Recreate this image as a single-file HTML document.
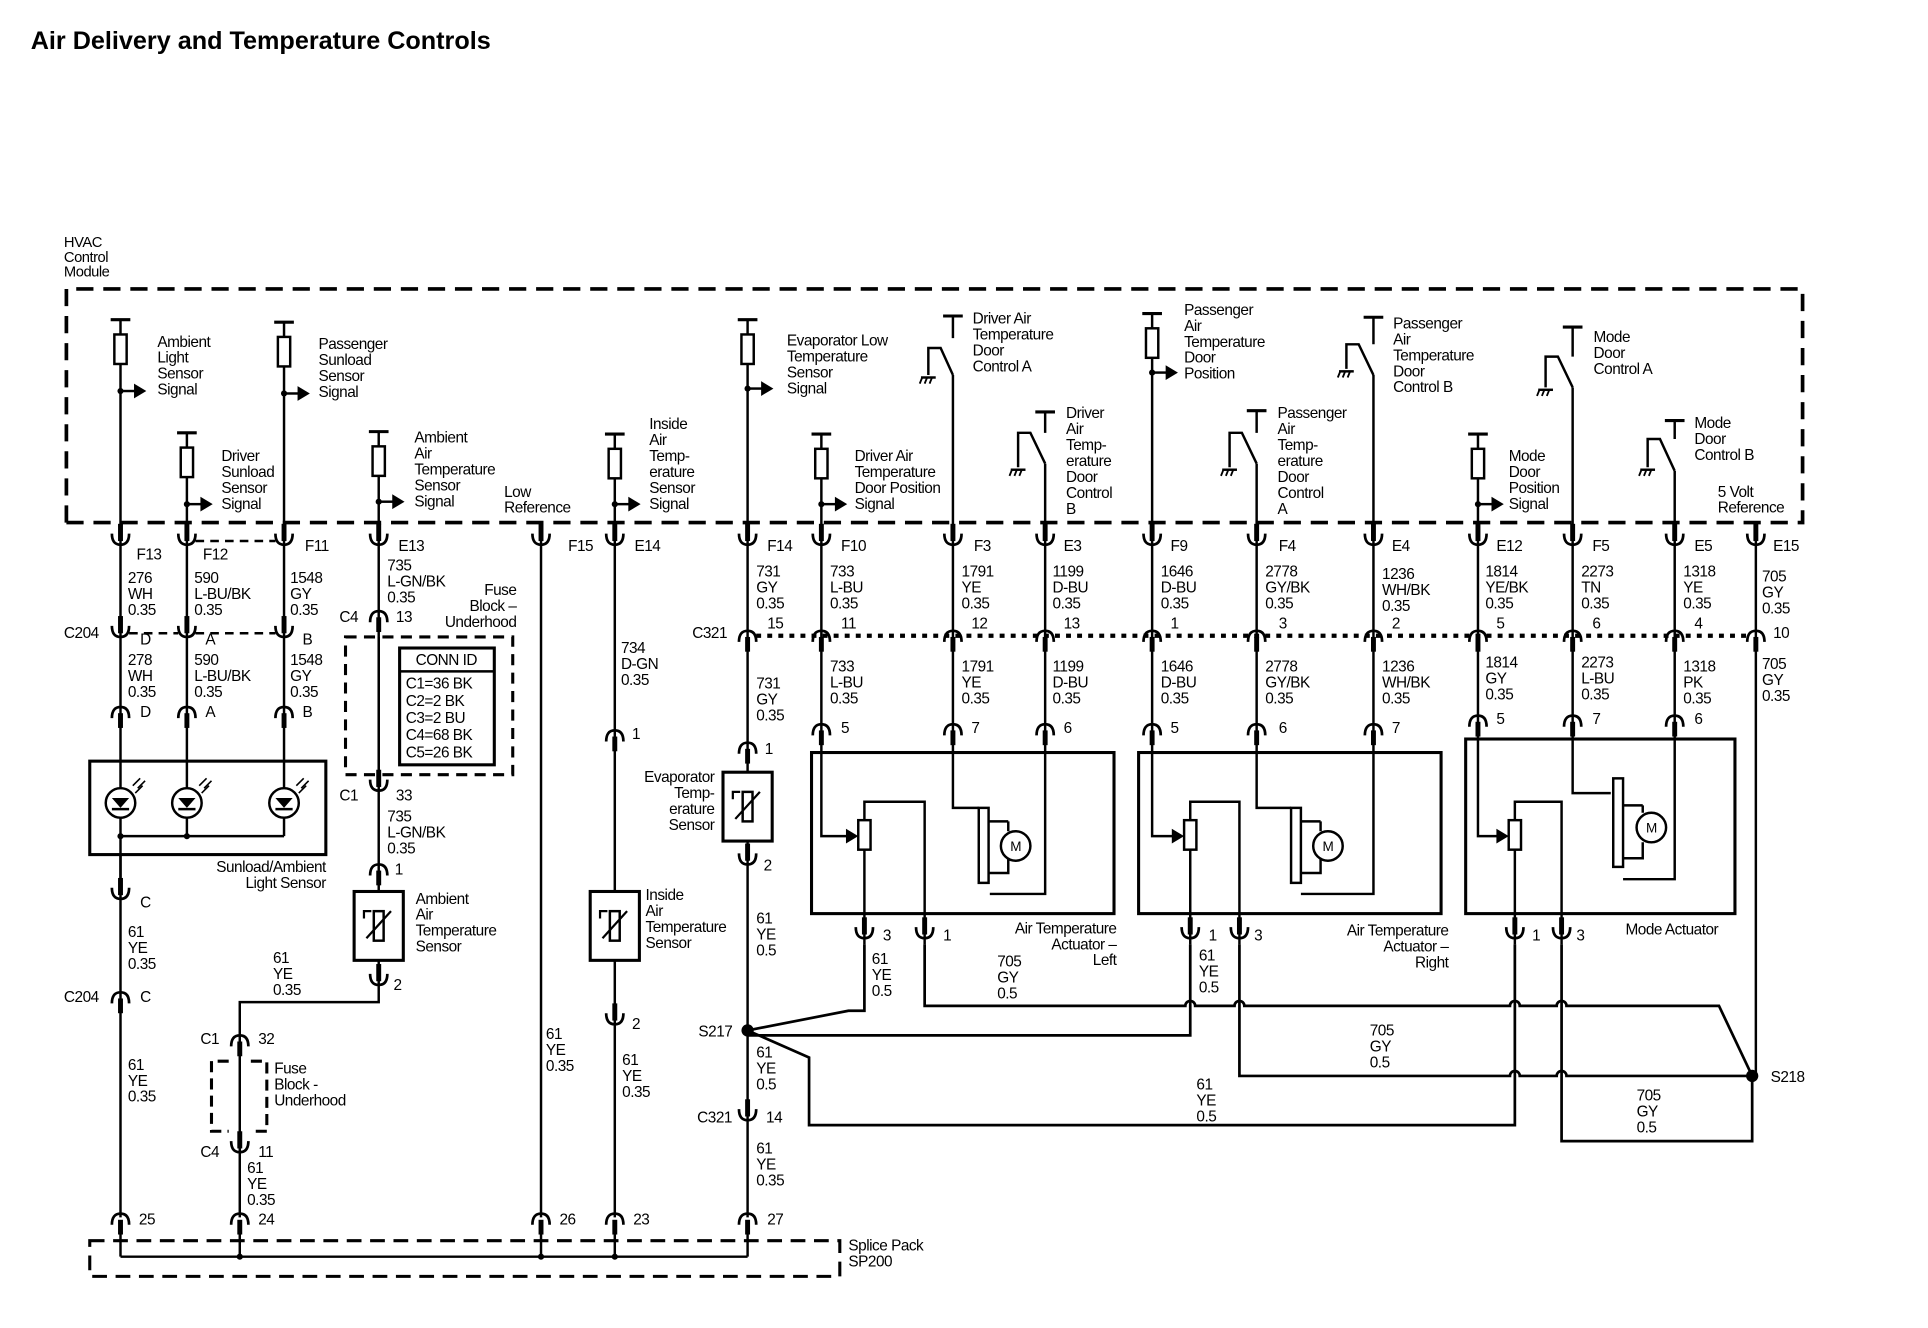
<!DOCTYPE html>
<html><head><meta charset="utf-8"><style>
html,body{margin:0;padding:0;background:#fff}
svg{display:block}
text{font-family:"Liberation Sans",sans-serif;font-size:12.5px;fill:#000;letter-spacing:-0.4px}
</style></head><body>
<svg width="1928" height="1328" viewBox="0 0 1568 1080" preserveAspectRatio="none" xmlns="http://www.w3.org/2000/svg">
<defs>
<g id="u"><line x1="0" y1="-14" x2="0" y2="0" stroke="#000" stroke-width="4"/><path d="M-7,-6 Q-7,3 0,3 Q7,3 7,-6" fill="none" stroke="#000" stroke-width="2.2"/></g>
<g id="n"><line x1="0" y1="2" x2="0" y2="14" stroke="#000" stroke-width="4"/><path d="M-7,6 Q-7,-3 0,-3 Q7,-3 7,6" fill="none" stroke="#000" stroke-width="2.2"/></g>
<g id="res"><line x1="-8" y1="0" x2="8" y2="0" stroke="#000" stroke-width="2.5"/><rect x="-5" y="12" width="10" height="24" fill="#fff" stroke="#000" stroke-width="2"/></g>
<g id="arr"><circle cx="0" cy="0" r="2.5"/><line x1="0" y1="0" x2="12" y2="0" stroke="#000" stroke-width="2"/><path d="M11,-6 L21,0 L11,6 Z"/></g>
<g id="gnd"><line x1="-6" y1="0" x2="6" y2="0" stroke="#000" stroke-width="2"/><path d="M-5,0 l-2,5 M-1,0 l-2,5 M3,0 l-2,5" stroke="#000" stroke-width="1.5"/></g>
<g id="tee"><line x1="-8" y1="0" x2="8" y2="0" stroke="#000" stroke-width="2.5"/></g>
<g id="diode"><circle cx="0" cy="0" r="12" fill="#fff" stroke="#000" stroke-width="2"/><path d="M-7,-4 L7,-4 L0,4 Z"/><line x1="-7" y1="5" x2="7" y2="5" stroke="#000" stroke-width="2"/><path d="M10,-14 l6,-6 M14,-12 l6,-6 M12,-8 l6,-6" stroke="#000" stroke-width="1.3"/></g>
<g id="therm"><rect x="-20" y="0" width="40" height="56" fill="#fff" stroke="#000" stroke-width="2.5"/><rect x="-4" y="16" width="8" height="24" fill="#fff" stroke="#000" stroke-width="2"/><line x1="-10" y1="38" x2="10" y2="16" stroke="#000" stroke-width="1.8"/><path d="M-12,22 l0,-6 l6,0" fill="none" stroke="#000" stroke-width="1.8"/></g>
</defs>

<text x="25" y="40" style="font-size:20.5px;font-weight:bold;letter-spacing:0">Air Delivery and Temperature Controls</text>
<text x="52" y="201" style="font-size:12px"><tspan x="52">HVAC</tspan><tspan x="52" dy="12">Control</tspan><tspan x="52" dy="12">Module</tspan></text>

<g fill="none" stroke="#000" stroke-width="3" stroke-dasharray="14,8">
<path d="M54,425 V235 H1466 V425 H54"/>
</g>

<g stroke="#000" stroke-width="2" fill="none">
<path d="M98,260 V990 M152,352 V618 M231,262 V618 M308,351 V815 H195 V990 M440,425 V990 M500,353 V990 M608,260 V990"/>
<path d="M668,353 V680 H690 M775,275 V257 M775,305 V657 H796 M850,352 V335 M850,377 V727 H805"/>
<path d="M937,255 V680 H955 M1022,352 V334 M1022,377 V657 H1050 M1117,280 V258 M1117,305 V727 H1058"/>
<path d="M1202,353 V680 H1220 M1279,290 V266 M1279,315 V645 H1310 M1362,357 V342 M1362,383 V715 H1320 M1428,425 V875"/>
<path d="M755,305 V283 H765 L775,305"/>
<path d="M828,380 V352 H838 L850,377"/>
<path d="M1000,380 V352 H1010 L1022,377"/>
<path d="M1095,300 V280 H1105 L1117,305"/>
<path d="M1257,315 V290 H1267 L1279,315"/>
<path d="M1340,380 V357 H1350 L1362,383"/>
</g>
<use href="#gnd" x="755" y="307"/><use href="#gnd" x="828" y="382"/><use href="#gnd" x="1000" y="382"/><use href="#gnd" x="1095" y="302"/><use href="#gnd" x="1257" y="317"/><use href="#gnd" x="1340" y="382"/>
<use href="#tee" x="775" y="257"/><use href="#tee" x="850" y="335"/><use href="#tee" x="1022" y="334"/><use href="#tee" x="1117" y="258"/><use href="#tee" x="1279" y="266"/><use href="#tee" x="1362" y="342"/>

<use href="#res" x="98" y="260"/><use href="#arr" x="98" y="318"/>
<use href="#res" x="152" y="352"/><use href="#arr" x="152" y="410"/>
<use href="#res" x="231" y="262"/><use href="#arr" x="231" y="320"/>
<use href="#res" x="308" y="351"/><use href="#arr" x="308" y="408"/>
<use href="#res" x="500" y="353"/><use href="#arr" x="500" y="410"/>
<use href="#res" x="608" y="260"/><use href="#arr" x="608" y="316"/>
<use href="#res" x="668" y="353"/><use href="#arr" x="668" y="410"/>
<use href="#res" x="937" y="255"/><use href="#arr" x="937" y="303"/>
<use href="#res" x="1202" y="353"/><use href="#arr" x="1202" y="410"/>

<text><tspan x="128" y="282">Ambient</tspan><tspan x="128" dy="13">Light</tspan><tspan x="128" dy="13">Sensor</tspan><tspan x="128" dy="13">Signal</tspan></text>
<text><tspan x="180" y="375">Driver</tspan><tspan x="180" dy="13">Sunload</tspan><tspan x="180" dy="13">Sensor</tspan><tspan x="180" dy="13">Signal</tspan></text>
<text><tspan x="259" y="284">Passenger</tspan><tspan x="259" dy="13">Sunload</tspan><tspan x="259" dy="13">Sensor</tspan><tspan x="259" dy="13">Signal</tspan></text>
<text><tspan x="337" y="360">Ambient</tspan><tspan x="337" dy="13">Air</tspan><tspan x="337" dy="13">Temperature</tspan><tspan x="337" dy="13">Sensor</tspan><tspan x="337" dy="13">Signal</tspan></text>
<text><tspan x="410" y="404">Low</tspan><tspan x="410" dy="13">Reference</tspan></text>
<text><tspan x="528" y="349">Inside</tspan><tspan x="528" dy="13">Air</tspan><tspan x="528" dy="13">Temp-</tspan><tspan x="528" dy="13">erature</tspan><tspan x="528" dy="13">Sensor</tspan><tspan x="528" dy="13">Signal</tspan></text>
<text><tspan x="640" y="281">Evaporator Low</tspan><tspan x="640" dy="13">Temperature</tspan><tspan x="640" dy="13">Sensor</tspan><tspan x="640" dy="13">Signal</tspan></text>
<text><tspan x="695" y="375">Driver Air</tspan><tspan x="695" dy="13">Temperature</tspan><tspan x="695" dy="13">Door Position</tspan><tspan x="695" dy="13">Signal</tspan></text>
<text><tspan x="791" y="263">Driver Air</tspan><tspan x="791" dy="13">Temperature</tspan><tspan x="791" dy="13">Door</tspan><tspan x="791" dy="13">Control A</tspan></text>
<text><tspan x="867" y="340">Driver</tspan><tspan x="867" dy="13">Air</tspan><tspan x="867" dy="13">Temp-</tspan><tspan x="867" dy="13">erature</tspan><tspan x="867" dy="13">Door</tspan><tspan x="867" dy="13">Control</tspan><tspan x="867" dy="13">B</tspan></text>
<text><tspan x="963" y="256">Passenger</tspan><tspan x="963" dy="13">Air</tspan><tspan x="963" dy="13">Temperature</tspan><tspan x="963" dy="13">Door</tspan><tspan x="963" dy="13">Position</tspan></text>
<text><tspan x="1039" y="340">Passenger</tspan><tspan x="1039" dy="13">Air</tspan><tspan x="1039" dy="13">Temp-</tspan><tspan x="1039" dy="13">erature</tspan><tspan x="1039" dy="13">Door</tspan><tspan x="1039" dy="13">Control</tspan><tspan x="1039" dy="13">A</tspan></text>
<text><tspan x="1133" y="267">Passenger</tspan><tspan x="1133" dy="13">Air</tspan><tspan x="1133" dy="13">Temperature</tspan><tspan x="1133" dy="13">Door</tspan><tspan x="1133" dy="13">Control B</tspan></text>
<text><tspan x="1227" y="375">Mode</tspan><tspan x="1227" dy="13">Door</tspan><tspan x="1227" dy="13">Position</tspan><tspan x="1227" dy="13">Signal</tspan></text>
<text><tspan x="1296" y="278">Mode</tspan><tspan x="1296" dy="13">Door</tspan><tspan x="1296" dy="13">Control A</tspan></text>
<text><tspan x="1378" y="348">Mode</tspan><tspan x="1378" dy="13">Door</tspan><tspan x="1378" dy="13">Control B</tspan></text>
<text><tspan x="1397" y="404">5 Volt</tspan><tspan x="1397" dy="13">Reference</tspan></text>

<g>
<use href="#u" x="98" y="440"/><use href="#u" x="152" y="440"/><use href="#u" x="231" y="440"/><use href="#u" x="308" y="440"/><use href="#u" x="440" y="440"/><use href="#u" x="500" y="440"/><use href="#u" x="608" y="440"/><use href="#u" x="668" y="440"/><use href="#u" x="775" y="440"/><use href="#u" x="850" y="440"/><use href="#u" x="937" y="440"/><use href="#u" x="1022" y="440"/><use href="#u" x="1117" y="440"/><use href="#u" x="1202" y="440"/><use href="#u" x="1279" y="440"/><use href="#u" x="1362" y="440"/><use href="#u" x="1428" y="440"/>
</g>
<path d="M159,440 H224" stroke="#000" stroke-width="2" stroke-dasharray="7,5"/>
<path d="M105,515 H145 M159,515 H224" stroke="#000" stroke-width="2" stroke-dasharray="7,5"/>
<path d="M615,517 H1421" stroke="#000" stroke-width="3.5" stroke-dasharray="4,5"/>
<text><tspan x="111" y="455">F13</tspan><tspan x="165" y="455">F12</tspan><tspan x="248" y="448">F11</tspan><tspan x="324" y="448">E13</tspan><tspan x="462" y="448">F15</tspan><tspan x="516" y="448">E14</tspan><tspan x="624" y="448">F14</tspan><tspan x="684" y="448">F10</tspan><tspan x="792" y="448">F3</tspan><tspan x="865" y="448">E3</tspan><tspan x="952" y="448">F9</tspan><tspan x="1040" y="448">F4</tspan><tspan x="1132" y="448">E4</tspan><tspan x="1217" y="448">E12</tspan><tspan x="1295" y="448">F5</tspan><tspan x="1378" y="448">E5</tspan><tspan x="1442" y="448">E15</tspan></text>

<text><tspan x="104" y="474">276</tspan><tspan x="104" dy="13">WH</tspan><tspan x="104" dy="13">0.35</tspan></text>
<text><tspan x="158" y="474">590</tspan><tspan x="158" dy="13">L-BU/BK</tspan><tspan x="158" dy="13">0.35</tspan></text>
<text><tspan x="236" y="474">1548</tspan><tspan x="236" dy="13">GY</tspan><tspan x="236" dy="13">0.35</tspan></text>
<text><tspan x="315" y="464">735</tspan><tspan x="315" dy="13">L-GN/BK</tspan><tspan x="315" dy="13">0.35</tspan></text>
<text><tspan x="615" y="469">731</tspan><tspan x="615" dy="13">GY</tspan><tspan x="615" dy="13">0.35</tspan></text>
<text><tspan x="675" y="469">733</tspan><tspan x="675" dy="13">L-BU</tspan><tspan x="675" dy="13">0.35</tspan></text>
<text><tspan x="782" y="469">1791</tspan><tspan x="782" dy="13">YE</tspan><tspan x="782" dy="13">0.35</tspan></text>
<text><tspan x="856" y="469">1199</tspan><tspan x="856" dy="13">D-BU</tspan><tspan x="856" dy="13">0.35</tspan></text>
<text><tspan x="944" y="469">1646</tspan><tspan x="944" dy="13">D-BU</tspan><tspan x="944" dy="13">0.35</tspan></text>
<text><tspan x="1029" y="469">2778</tspan><tspan x="1029" dy="13">GY/BK</tspan><tspan x="1029" dy="13">0.35</tspan></text>
<text><tspan x="1124" y="471">1236</tspan><tspan x="1124" dy="13">WH/BK</tspan><tspan x="1124" dy="13">0.35</tspan></text>
<text><tspan x="1208" y="469">1814</tspan><tspan x="1208" dy="13">YE/BK</tspan><tspan x="1208" dy="13">0.35</tspan></text>
<text><tspan x="1286" y="469">2273</tspan><tspan x="1286" dy="13">TN</tspan><tspan x="1286" dy="13">0.35</tspan></text>
<text><tspan x="1369" y="469">1318</tspan><tspan x="1369" dy="13">YE</tspan><tspan x="1369" dy="13">0.35</tspan></text>
<text><tspan x="1433" y="473">705</tspan><tspan x="1433" dy="13">GY</tspan><tspan x="1433" dy="13">0.35</tspan></text>

<use href="#u" x="98" y="515"/><use href="#u" x="152" y="515"/><use href="#u" x="231" y="515"/>
<text x="52" y="519">C204</text>
<text><tspan x="114" y="524">D</tspan><tspan x="167" y="524">A</tspan><tspan x="246" y="524">B</tspan></text>
<g><use href="#n" x="608" y="516"/><use href="#n" x="668" y="516"/><use href="#n" x="775" y="516"/><use href="#n" x="850" y="516"/><use href="#n" x="937" y="516"/><use href="#n" x="1022" y="516"/><use href="#n" x="1117" y="516"/><use href="#n" x="1202" y="516"/><use href="#n" x="1279" y="516"/><use href="#n" x="1362" y="516"/><use href="#n" x="1428" y="516"/></g>
<text x="563" y="519">C321</text>
<text><tspan x="624" y="511">15</tspan><tspan x="684" y="511">11</tspan><tspan x="790" y="511">12</tspan><tspan x="865" y="511">13</tspan><tspan x="952" y="511">1</tspan><tspan x="1040" y="511">3</tspan><tspan x="1132" y="511">2</tspan><tspan x="1217" y="511">5</tspan><tspan x="1295" y="511">6</tspan><tspan x="1378" y="511">4</tspan><tspan x="1442" y="519">10</tspan></text>

<text><tspan x="104" y="541">278</tspan><tspan x="104" dy="13">WH</tspan><tspan x="104" dy="13">0.35</tspan></text>
<text><tspan x="158" y="541">590</tspan><tspan x="158" dy="13">L-BU/BK</tspan><tspan x="158" dy="13">0.35</tspan></text>
<text><tspan x="236" y="541">1548</tspan><tspan x="236" dy="13">GY</tspan><tspan x="236" dy="13">0.35</tspan></text>
<text><tspan x="615" y="560">731</tspan><tspan x="615" dy="13">GY</tspan><tspan x="615" dy="13">0.35</tspan></text>
<text><tspan x="675" y="546">733</tspan><tspan x="675" dy="13">L-BU</tspan><tspan x="675" dy="13">0.35</tspan></text>
<text><tspan x="782" y="546">1791</tspan><tspan x="782" dy="13">YE</tspan><tspan x="782" dy="13">0.35</tspan></text>
<text><tspan x="856" y="546">1199</tspan><tspan x="856" dy="13">D-BU</tspan><tspan x="856" dy="13">0.35</tspan></text>
<text><tspan x="944" y="546">1646</tspan><tspan x="944" dy="13">D-BU</tspan><tspan x="944" dy="13">0.35</tspan></text>
<text><tspan x="1029" y="546">2778</tspan><tspan x="1029" dy="13">GY/BK</tspan><tspan x="1029" dy="13">0.35</tspan></text>
<text><tspan x="1124" y="546">1236</tspan><tspan x="1124" dy="13">WH/BK</tspan><tspan x="1124" dy="13">0.35</tspan></text>
<text><tspan x="1208" y="543">1814</tspan><tspan x="1208" dy="13">GY</tspan><tspan x="1208" dy="13">0.35</tspan></text>
<text><tspan x="1286" y="543">2273</tspan><tspan x="1286" dy="13">L-BU</tspan><tspan x="1286" dy="13">0.35</tspan></text>
<text><tspan x="1369" y="546">1318</tspan><tspan x="1369" dy="13">PK</tspan><tspan x="1369" dy="13">0.35</tspan></text>
<text><tspan x="1433" y="544">705</tspan><tspan x="1433" dy="13">GY</tspan><tspan x="1433" dy="13">0.35</tspan></text>

<use href="#n" x="98" y="578"/><use href="#n" x="152" y="578"/><use href="#n" x="231" y="578"/>
<text><tspan x="114" y="583">D</tspan><tspan x="167" y="583">A</tspan><tspan x="246" y="583">B</tspan></text>
<rect x="73" y="619" width="192" height="76" fill="#fff" stroke="#000" stroke-width="2.5"/>
<path d="M98,619 V725 M152,619 V680 M231,619 V680 M98,680 H231" stroke="#000" stroke-width="2" fill="none"/>
<circle cx="98" cy="680" r="2.5"/><circle cx="152" cy="680" r="2.5"/>
<use href="#diode" x="98" y="653"/><use href="#diode" x="152" y="653"/><use href="#diode" x="231" y="653"/>
<text text-anchor="end"><tspan x="265" y="709">Sunload/Ambient</tspan><tspan x="265" dy="13">Light Sensor</tspan></text>
<use href="#u" x="98" y="728"/><text x="114" y="738">C</text>
<text><tspan x="104" y="762">61</tspan><tspan x="104" dy="13">YE</tspan><tspan x="104" dy="13">0.35</tspan></text>
<use href="#n" x="98" y="810"/><text x="114" y="815">C</text><text x="52" y="815">C204</text>
<text><tspan x="104" y="870">61</tspan><tspan x="104" dy="13">YE</tspan><tspan x="104" dy="13">0.35</tspan></text>

<use href="#n" x="308" y="500"/><text x="276" y="506">C4</text><text x="322" y="506">13</text>
<text text-anchor="end"><tspan x="420" y="484">Fuse</tspan><tspan x="420" dy="13">Block –</tspan><tspan x="420" dy="13">Underhood</tspan></text>
<rect x="281" y="518" width="136" height="112" fill="none" stroke="#000" stroke-width="2.5" stroke-dasharray="9,6"/>
<line x1="308" y1="518" x2="308" y2="630" stroke="#000" stroke-width="2"/>
<rect x="325" y="527" width="77" height="95" fill="#fff" stroke="#000" stroke-width="2.5"/>
<line x1="325" y1="546" x2="402" y2="546" stroke="#000" stroke-width="2"/>
<text x="363" y="541" text-anchor="middle">CONN ID</text>
<text><tspan x="330" y="560">C1=36 BK</tspan><tspan x="330" dy="14">C2=2 BK</tspan><tspan x="330" dy="14">C3=2 BU</tspan><tspan x="330" dy="14">C4=68 BK</tspan><tspan x="330" dy="14">C5=26 BK</tspan></text>
<use href="#u" x="308" y="640"/><text x="276" y="651">C1</text><text x="322" y="651">33</text>
<text><tspan x="315" y="668">735</tspan><tspan x="315" dy="13">L-GN/BK</tspan><tspan x="315" dy="13">0.35</tspan></text>
<use href="#n" x="308" y="706"/><text x="321" y="711">1</text>
<use href="#therm" x="308" y="725"/>
<text><tspan x="338" y="735">Ambient</tspan><tspan x="338" dy="13">Air</tspan><tspan x="338" dy="13">Temperature</tspan><tspan x="338" dy="13">Sensor</tspan></text>
<use href="#u" x="308" y="798"/><text x="320" y="805">2</text>
<text><tspan x="222" y="783">61</tspan><tspan x="222" dy="13">YE</tspan><tspan x="222" dy="13">0.35</tspan></text>
<use href="#n" x="195" y="845"/><text x="163" y="849">C1</text><text x="210" y="849">32</text>
<path d="M186,863 H172 V920 H186 M204,863 H217 V920 H204" fill="none" stroke="#000" stroke-width="2.5" stroke-dasharray="9,5"/>
<text><tspan x="223" y="873">Fuse</tspan><tspan x="223" dy="13">Block -</tspan><tspan x="223" dy="13">Underhood</tspan></text>
<use href="#u" x="195" y="934"/><text x="163" y="941">C4</text><text x="210" y="941">11</text>
<text><tspan x="201" y="954">61</tspan><tspan x="201" dy="13">YE</tspan><tspan x="201" dy="13">0.35</tspan></text>

<text><tspan x="444" y="845">61</tspan><tspan x="444" dy="13">YE</tspan><tspan x="444" dy="13">0.35</tspan></text>
<text><tspan x="505" y="531">734</tspan><tspan x="505" dy="13">D-GN</tspan><tspan x="505" dy="13">0.35</tspan></text>
<use href="#n" x="500" y="597"/><text x="514" y="601">1</text>
<use href="#therm" x="500" y="725"/>
<text><tspan x="525" y="732">Inside</tspan><tspan x="525" dy="13">Air</tspan><tspan x="525" dy="13">Temperature</tspan><tspan x="525" dy="13">Sensor</tspan></text>
<use href="#u" x="500" y="830"/><text x="514" y="837">2</text>
<text><tspan x="506" y="866">61</tspan><tspan x="506" dy="13">YE</tspan><tspan x="506" dy="13">0.35</tspan></text>

<use href="#n" x="608" y="607"/><text x="622" y="613">1</text>
<use href="#therm" x="608" y="628"/>
<text text-anchor="end"><tspan x="581" y="636">Evaporator</tspan><tspan x="581" dy="13">Temp-</tspan><tspan x="581" dy="13">erature</tspan><tspan x="581" dy="13">Sensor</tspan></text>
<use href="#u" x="608" y="700"/><text x="621" y="708">2</text>
<text><tspan x="615" y="751">61</tspan><tspan x="615" dy="13">YE</tspan><tspan x="615" dy="13">0.5</tspan></text>
<circle cx="608" cy="838" r="5"/><text x="568" y="843">S217</text>
<text><tspan x="615" y="860">61</tspan><tspan x="615" dy="13">YE</tspan><tspan x="615" dy="13">0.5</tspan></text>
<use href="#u" x="608" y="908"/><text x="567" y="913">C321</text><text x="623" y="913">14</text>
<text><tspan x="615" y="938">61</tspan><tspan x="615" dy="13">YE</tspan><tspan x="615" dy="13">0.35</tspan></text>

<use href="#n" x="98" y="990"/><use href="#n" x="195" y="990"/><use href="#n" x="440" y="990"/><use href="#n" x="500" y="990"/><use href="#n" x="608" y="990"/>
<text><tspan x="113" y="996">25</tspan><tspan x="210" y="996">24</tspan><tspan x="455" y="996">26</tspan><tspan x="515" y="996">23</tspan><tspan x="624" y="996">27</tspan></text>
<rect x="73" y="1009" width="610" height="29" fill="none" stroke="#000" stroke-width="2.5" stroke-dasharray="12,7"/>
<path d="M98,1004 V1022 M195,1004 V1022 M440,1004 V1022 M500,1004 V1022 M608,1004 V1022 M98,1022 H608" stroke="#000" stroke-width="2" fill="none"/>
<circle cx="195" cy="1022" r="2.5"/><circle cx="440" cy="1022" r="2.5"/><circle cx="500" cy="1022" r="2.5"/>
<text><tspan x="690" y="1017">Splice Pack</tspan><tspan x="690" dy="13">SP200</tspan></text>

<use href="#n" x="668" y="592"/><use href="#n" x="775" y="592"/><use href="#n" x="850" y="592"/>
<use href="#n" x="937" y="592"/><use href="#n" x="1022" y="592"/><use href="#n" x="1117" y="592"/>
<use href="#n" x="1202" y="585"/><use href="#n" x="1279" y="585"/><use href="#n" x="1362" y="585"/>
<text><tspan x="684" y="596">5</tspan><tspan x="790" y="596">7</tspan><tspan x="865" y="596">6</tspan><tspan x="952" y="596">5</tspan><tspan x="1040" y="596">6</tspan><tspan x="1132" y="596">7</tspan><tspan x="1217" y="589">5</tspan><tspan x="1295" y="589">7</tspan><tspan x="1378" y="589">6</tspan></text>

<g fill="none" stroke="#000" stroke-width="2.5">
<rect x="660" y="612" width="246" height="131"/>
<rect x="926" y="612" width="246" height="131"/>
<rect x="1192" y="601" width="219" height="142"/>
</g>
<g fill="none" stroke="#000" stroke-width="2">
<path d="M703,667 V652 H752 V768 M703,691 V768"/>
<path d="M968,667 V652 H1008 V768 M968,691 V768"/>
<path d="M1232,667 V652 H1270 V768 M1232,691 V768"/>
<path d="M804,668 H820 M804,710 H820 V699 M820,668 V676"/>
<path d="M1058,668 H1074 M1058,710 H1074 V699 M1074,668 V676"/>
<path d="M1320,655 H1336 M1320,698 H1336 V685 M1336,655 V661"/>
</g>
<g>
<path d="M688,674 L698,680 L688,686 Z"/><path d="M953,674 L963,680 L953,686 Z"/><path d="M1217,674 L1227,680 L1217,686 Z"/>
<rect x="698" y="667" width="10" height="24" fill="#fff" stroke="#000" stroke-width="2"/>
<rect x="963" y="667" width="10" height="24" fill="#fff" stroke="#000" stroke-width="2"/>
<rect x="1227" y="667" width="10" height="24" fill="#fff" stroke="#000" stroke-width="2"/>
<rect x="796" y="657" width="8" height="61" fill="#fff" stroke="#000" stroke-width="2"/>
<rect x="1050" y="657" width="8" height="61" fill="#fff" stroke="#000" stroke-width="2"/>
<rect x="1312" y="633" width="8" height="72" fill="#fff" stroke="#000" stroke-width="2"/>
<circle cx="826" cy="688" r="12" fill="#fff" stroke="#000" stroke-width="2"/>
<circle cx="1080" cy="688" r="12" fill="#fff" stroke="#000" stroke-width="2"/>
<circle cx="1343" cy="673" r="12" fill="#fff" stroke="#000" stroke-width="2"/>
</g>
<text style="font-size:11px" text-anchor="middle"><tspan x="826" y="692">M</tspan><tspan x="1080" y="692">M</tspan><tspan x="1343" y="677">M</tspan></text>

<use href="#u" x="703" y="760"/><use href="#u" x="752" y="760"/><use href="#u" x="968" y="760"/><use href="#u" x="1008" y="760"/><use href="#u" x="1232" y="760"/><use href="#u" x="1270" y="760"/>
<text><tspan x="718" y="765">3</tspan><tspan x="767" y="765">1</tspan><tspan x="983" y="765">1</tspan><tspan x="1020" y="765">3</tspan><tspan x="1246" y="765">1</tspan><tspan x="1282" y="765">3</tspan></text>
<text text-anchor="end"><tspan x="908" y="759">Air Temperature</tspan><tspan x="908" dy="13">Actuator –</tspan><tspan x="908" dy="13">Left</tspan></text>
<text text-anchor="end"><tspan x="1178" y="761">Air Temperature</tspan><tspan x="1178" dy="13">Actuator –</tspan><tspan x="1178" dy="13">Right</tspan></text>
<text x="1322" y="760">Mode Actuator</text>

<g fill="none" stroke="#000" stroke-width="2.2">
<path d="M703,768 V822 H690 L608,838"/>
<path d="M752,768 V818 H964 a4,4 0 0 1 8,0 H1004 a4,4 0 0 1 8,0 H1228 a4,4 0 0 1 8,0 H1266 a4,4 0 0 1 8,0 H1398 L1425,875"/>
<path d="M968,768 V842 H608"/>
<path d="M1008,768 V875 H1228 a4,4 0 0 1 8,0 H1266 a4,4 0 0 1 8,0 H1425"/>
<path d="M608,838 L658,860 V915 H1232 V768"/>
<path d="M1270,768 V928 H1425 V875"/>
</g>
<circle cx="1425" cy="875" r="5"/><text x="1440" y="880">S218</text>
<text><tspan x="709" y="784">61</tspan><tspan x="709" dy="13">YE</tspan><tspan x="709" dy="13">0.5</tspan></text>
<text><tspan x="811" y="786">705</tspan><tspan x="811" dy="13">GY</tspan><tspan x="811" dy="13">0.5</tspan></text>
<text><tspan x="975" y="781">61</tspan><tspan x="975" dy="13">YE</tspan><tspan x="975" dy="13">0.5</tspan></text>
<text><tspan x="1114" y="842">705</tspan><tspan x="1114" dy="13">GY</tspan><tspan x="1114" dy="13">0.5</tspan></text>
<text><tspan x="973" y="886">61</tspan><tspan x="973" dy="13">YE</tspan><tspan x="973" dy="13">0.5</tspan></text>
<text><tspan x="1331" y="895">705</tspan><tspan x="1331" dy="13">GY</tspan><tspan x="1331" dy="13">0.5</tspan></text>
</svg>
</body></html>
